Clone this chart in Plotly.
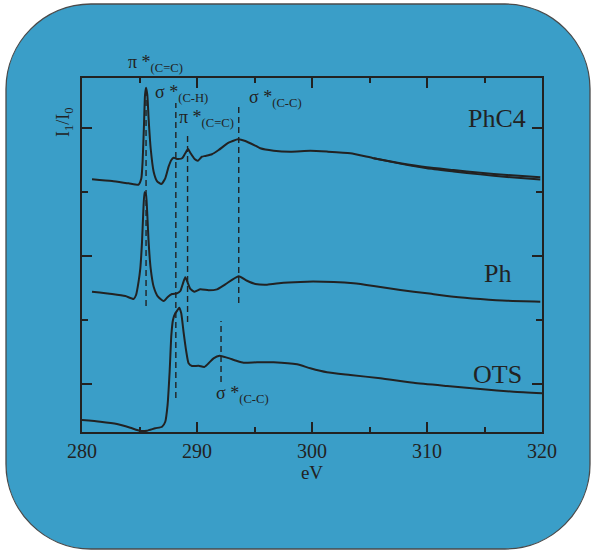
import plotly.graph_objects as go

# ---------------- data ----------------
phc4_ev = [280.87, 282.61, 284.05, 284.92, 285.16, 285.27, 285.39, 285.48, 285.57, 285.68,
           285.79, 285.97, 286.23, 286.52, 286.90, 287.24, 287.53, 287.77, 287.97, 288.26,
           288.70, 288.98, 289.22, 289.44, 289.79, 290.09, 290.43, 290.72, 291.30, 291.88,
           292.75, 293.57, 294.20, 295.07, 295.50, 296.66, 298.11, 299.85, 301.30, 303.33,
           305.36, 307.68, 310.00, 312.31, 314.63, 316.96, 319.85]
phc4_i = [2.600, 2.586, 2.568, 2.558, 2.607, 2.737, 3.023, 3.258, 3.314, 3.258,
          3.076, 2.842, 2.659, 2.586, 2.563, 2.607, 2.698, 2.750, 2.768, 2.758,
          2.764, 2.803, 2.836, 2.803, 2.758, 2.745, 2.776, 2.782, 2.795, 2.828,
          2.885, 2.912, 2.899, 2.862, 2.842, 2.823, 2.815, 2.822, 2.816, 2.803,
          2.764, 2.725, 2.693, 2.672, 2.651, 2.633, 2.615]

# second PhC4 scan, visible only where it separates at high energy
phc4b_ev = [305.36, 307.68, 310.00, 312.31, 314.63, 316.96, 319.85]
phc4b_i = [2.764, 2.722, 2.685, 2.661, 2.638, 2.618, 2.598]

ph_ev = [280.87, 282.61, 283.77, 284.49, 284.70, 284.92, 285.07, 285.22, 285.33, 285.44,
         285.57, 285.68, 285.79, 285.97, 286.23, 286.61, 287.10, 287.48, 287.83, 288.26,
         288.55, 288.78, 288.98, 289.16, 289.42, 289.79, 290.29, 291.01, 291.74, 292.46,
         293.62, 294.35, 295.07, 296.09, 297.53, 299.57, 301.88, 303.62, 305.36, 307.68,
         310.00, 312.31, 314.63, 316.96, 319.85]
ph_i = [1.723, 1.705, 1.689, 1.666, 1.697, 1.801, 1.905, 2.113, 2.347, 2.498,
        2.477, 2.321, 2.113, 1.905, 1.762, 1.684, 1.650, 1.684, 1.705, 1.710,
        1.728, 1.788, 1.835, 1.801, 1.744, 1.723, 1.741, 1.734, 1.741, 1.780,
        1.843, 1.808, 1.783, 1.777, 1.793, 1.801, 1.798, 1.788, 1.767, 1.736,
        1.710, 1.684, 1.666, 1.652, 1.645]

ots_ev = [280.00, 281.59, 283.04, 284.20, 285.07, 285.65, 286.37, 286.96, 287.24, 287.44,
          287.62, 287.77, 287.91, 288.11, 288.31, 288.46, 288.63, 288.83, 289.07, 289.27,
          289.57, 290.14, 290.63, 291.01, 291.44, 291.97, 292.61, 293.48, 294.05, 295.22,
          296.66, 298.70, 299.85, 301.30, 303.33, 305.94, 308.83, 311.74, 314.63, 317.53,
          320.00]
ots_i = [0.721, 0.708, 0.690, 0.661, 0.636, 0.638, 0.657, 0.669, 0.708, 0.838,
         1.098, 1.385, 1.502, 1.554, 1.580, 1.598, 1.554, 1.410, 1.254, 1.164,
         1.143, 1.145, 1.135, 1.164, 1.203, 1.223, 1.208, 1.182, 1.169, 1.172,
         1.172, 1.156, 1.125, 1.094, 1.073, 1.047, 1.012, 0.987, 0.963, 0.942,
         0.930]

# dashed resonance markers: energy, bottom, top
mark_ev = [285.57, 288.16, 289.18, 293.63, 292.09]
mark_lo = [1.611, 0.893, 1.486, 1.634, 1.018]
mark_hi = [3.312, 3.195, 2.945, 3.171, 1.494]

# resonance labels
lab_text = ["π *<sub>(C=C)</sub>", "σ *<sub>(C-H)</sub>", "π *<sub>(C=C)</sub>",
            "σ *<sub>(C-C)</sub>", "σ *<sub>(C-C)</sub>"]
lab_ev = [283.85, 286.15, 288.25, 294.35, 291.50]
lab_i = [3.398, 3.165, 2.970, 3.128, 0.815]

sample_names = ["PhC4", "Ph", "OTS"]
sample_ev = [318.77, 317.51, 318.46]
sample_i = [3.075, 1.861, 1.076]

x_ticks = [280, 290, 300, 310, 320]

# ---------------- figure ----------------
INK = "#222222"
FONT = "Liberation Serif, Times New Roman, serif"
W, H = 591, 551
ML, MR, MT, MB = 82, 49, 78, 119
PW, PH = W - ML - MR, H - MT - MB
Y_RANGE = [0.628, 3.39]
X_RANGE = [280, 320]

fig = go.Figure()
line = dict(color=INK, width=2, shape="spline", smoothing=0.5)
for xs, ys in [(phc4_ev, phc4_i), (phc4b_ev, phc4b_i), (ph_ev, ph_i), (ots_ev, ots_i)]:
    fig.add_trace(go.Scatter(x=xs, y=ys, mode="lines", line=line, showlegend=False,
                             hoverinfo="skip"))

for e, lo, hi in zip(mark_ev, mark_lo, mark_hi):
    fig.add_shape(type="line", x0=e, x1=e, y0=lo, y1=hi, xref="x", yref="y",
                  line=dict(color=INK, width=1.4, dash="6px,4px"))

# labels: placed via paper coords so ones outside the axis range still show
def xd2paper(e):
    return (e - X_RANGE[0]) / (X_RANGE[1] - X_RANGE[0])

def yd2paper(v):
    return (v - Y_RANGE[0]) / (Y_RANGE[1] - Y_RANGE[0])

for t, e, v in zip(lab_text, lab_ev, lab_i):
    fig.add_annotation(x=xd2paper(e), y=yd2paper(v), xref="paper", yref="paper",
                       text=t, showarrow=False, xanchor="left", yanchor="bottom",
                       font=dict(family=FONT, size=18, color=INK))

for t, e, v in zip(sample_names, sample_ev, sample_i):
    fig.add_annotation(x=e, y=v, xref="x", yref="y", text=t, showarrow=False,
                       xanchor="right", yanchor="middle",
                       font=dict(family=FONT, size=26, color=INK))

# y-axis title
fig.add_annotation(x=(65 - ML) / PW, y=(H - MB - 122) / PH, xref="paper", yref="paper",
                   text="I<sub>1</sub>/I<sub>0</sub>", textangle=-90, showarrow=False,
                   xanchor="center", yanchor="middle",
                   font=dict(family=FONT, size=18, color=INK))

# rounded background panel (pixel geometry converted to paper coords)
def px(xp):
    return (xp - ML) / PW

def py(yp):
    return (H - MB - yp) / PH

x0, x1, y0, y1, r = 6, 590, 4, 549, 85
k = 0.5523 * r
path = (
    f"M {px(x0 + r)},{py(y0)} L {px(x1 - r)},{py(y0)} "
    f"C {px(x1 - r + k)},{py(y0)} {px(x1)},{py(y0 + r - k)} {px(x1)},{py(y0 + r)} "
    f"L {px(x1)},{py(y1 - r)} "
    f"C {px(x1)},{py(y1 - r + k)} {px(x1 - r + k)},{py(y1)} {px(x1 - r)},{py(y1)} "
    f"L {px(x0 + r)},{py(y1)} "
    f"C {px(x0 + r - k)},{py(y1)} {px(x0)},{py(y1 - r + k)} {px(x0)},{py(y1 - r)} "
    f"L {px(x0)},{py(y0 + r)} "
    f"C {px(x0)},{py(y0 + r - k)} {px(x0 + r - k)},{py(y0)} {px(x0 + r)},{py(y0)} Z"
)
fig.add_shape(type="path", path=path, xref="paper", yref="paper", layer="below",
              fillcolor="#3A9EC8", line=dict(color="#4a4a4a", width=1.3))

fig.update_xaxes(range=X_RANGE, tickvals=x_ticks, ticks="inside", ticklen=10,
                 tickwidth=1.5, tickcolor=INK, showline=True, linewidth=1.6,
                 linecolor=INK, mirror="ticks", showgrid=False, zeroline=False,
                 minor=dict(dtick=5, tick0=280, ticks="inside", ticklen=5,
                            tickwidth=1.5, tickcolor=INK),
                 tickfont=dict(family=FONT, size=20, color=INK),
                 title=dict(text="eV", font=dict(family=FONT, size=19, color=INK),
                            standoff=4))
fig.update_yaxes(range=Y_RANGE, tick0=0, dtick=1, ticks="inside", ticklen=10,
                 tickwidth=1.5, tickcolor=INK, showline=True, linewidth=1.6,
                 linecolor=INK, mirror="ticks", showgrid=False, zeroline=False,
                 showticklabels=False,
                 minor=dict(dtick=0.5, tick0=0, ticks="inside", ticklen=6,
                            tickwidth=1.5, tickcolor=INK))

fig.update_layout(width=W, height=H, margin=dict(l=ML, r=MR, t=MT, b=MB),
                  paper_bgcolor="white", plot_bgcolor="rgba(0,0,0,0)",
                  showlegend=False)

fig.write_html("out.html")
